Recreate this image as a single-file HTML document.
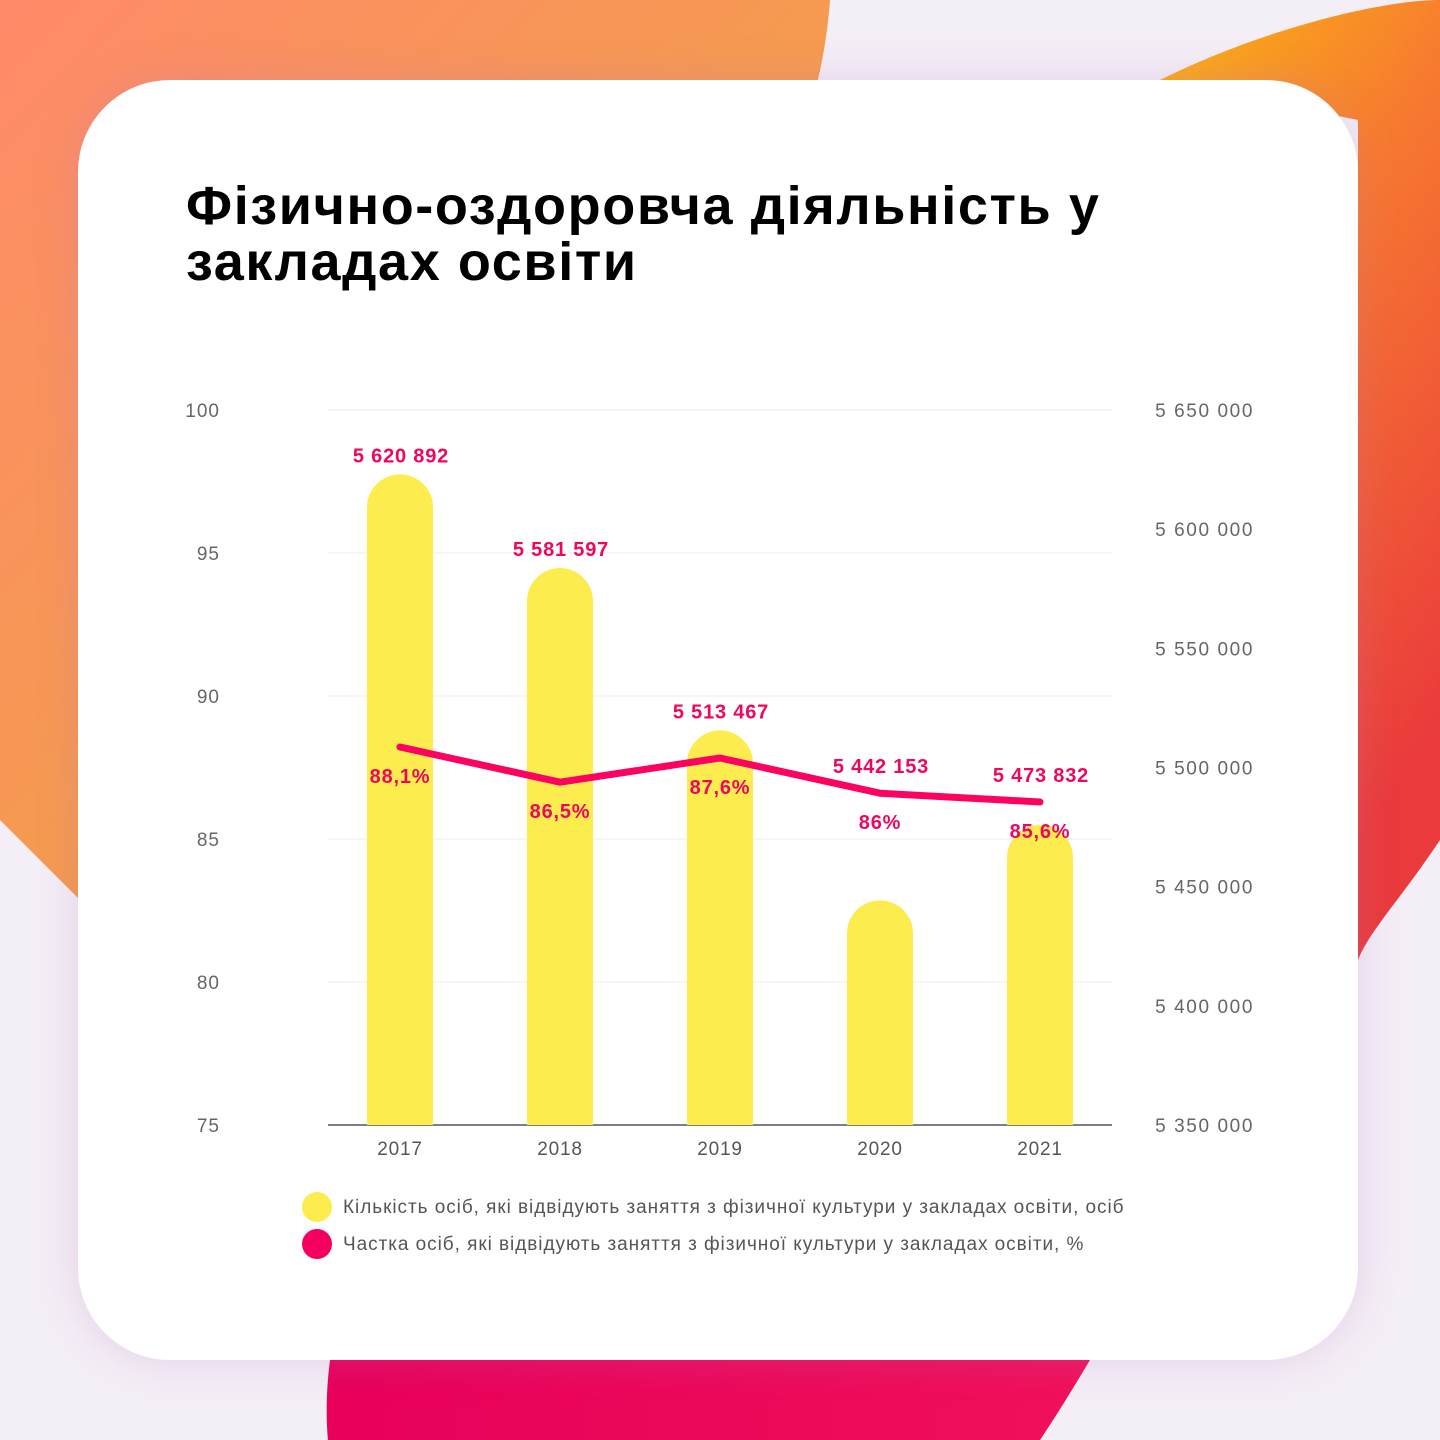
<!DOCTYPE html>
<html><head><meta charset="utf-8">
<style>
html,body{margin:0;padding:0;}
body{width:1440px;height:1440px;position:relative;overflow:hidden;background:#f4eef6;font-family:"Liberation Sans",sans-serif;}
.blob{position:absolute;}
#card{position:absolute;left:78px;top:80px;width:1280px;height:1280px;background:#fff;border-radius:92px;box-shadow:0 0 40px rgba(180,120,200,0.25);}
h1{position:absolute;left:186px;top:178px;margin:0;font-size:54px;line-height:56px;font-weight:bold;color:#000;letter-spacing:1.6px;}
</style></head>
<body>
<svg class="blob" width="1440" height="1440" style="left:0;top:0">
<defs>
<linearGradient id="g1" x1="0" y1="0" x2="1" y2="1"><stop offset="0" stop-color="#ff8a6a"/><stop offset="0.5" stop-color="#f59a50"/><stop offset="1" stop-color="#f0a040"/></linearGradient>
<linearGradient id="g2" x1="0" y1="0" x2="0.4" y2="1"><stop offset="0" stop-color="#fbb514"/><stop offset="0.4" stop-color="#f77a30"/><stop offset="1" stop-color="#ea3a3c"/></linearGradient>
<linearGradient id="g3" x1="0" y1="0" x2="1" y2="0"><stop offset="0" stop-color="#e8005a"/><stop offset="1" stop-color="#f0105a"/></linearGradient>
</defs>
<path d="M0 0 L830 0 C815 200 700 330 520 420 C380 500 200 650 80 900 L0 820 Z" fill="url(#g1)"/>
<path d="M1160 80 C1260 30 1380 0 1440 0 L1440 840 C1400 900 1370 930 1358 960 L1358 120 Z" fill="url(#g2)"/>
<path d="M330 1360 C326 1390 326 1420 328 1440 L1040 1440 C1060 1410 1075 1385 1090 1360 Z" fill="url(#g3)"/>
</svg>
<div id="card"></div>
<h1>Фізично-оздоровча діяльність у<br>закладах освіти</h1>
<svg id="chart" width="1440" height="1440" style="position:absolute;left:0;top:0;font-family:'Liberation Sans',sans-serif"></svg>
<script>
const years=["2017","2018","2019","2020","2021"];
const counts=[5620892,5581597,5513467,5442153,5473832];
const countLabels=["5 620 892","5 581 597","5 513 467","5 442 153","5 473 832"];
const shares=[88.1,86.5,87.6,86,85.6];
const shareLabels=["88,1%","86,5%","87,6%","86%","85,6%"];
const leftTicks=[75,80,85,90,95,100];
const rightTicks=[5350000,5400000,5450000,5500000,5550000,5600000,5650000];
const rightTickLabels=["5 350 000","5 400 000","5 450 000","5 500 000","5 550 000","5 600 000","5 650 000"];
const NS="http://www.w3.org/2000/svg";
const svg=document.getElementById('chart');
const x0=328,x1=1112,yB=1125,yT=410;
const yL=v=>yB-(v-75)/25*(yB-yT);
const yR=v=>yB-(v-5350000)/300000*(yB-yT)-5;
const yS=v=>747+(88.1-v)*22;
const xc=i=>400+i*160;
function mk(t,a,txt){const e=document.createElementNS(NS,t);for(const k in a)e.setAttribute(k,a[k]);if(txt!==undefined)e.textContent=txt;svg.appendChild(e);return e;}
leftTicks.forEach(v=>{
 const g=mk('line',{x1:x0,x2:x1,y1:yL(v),y2:yL(v),stroke:v===75?'#555':'#ececec','stroke-width':v===75?1.5:1});
 
 
 const t=mk('text',{x:220,y:yL(v)+7,'text-anchor':'end','font-size':19,fill:'#666','letter-spacing':1},v);
 
 
});
rightTicks.forEach((v,i)=>{
 const t=mk('text',{x:1254,y:yB-(v-5350000)/300000*(yB-yT)+7,'text-anchor':'end','font-size':19,fill:'#666','letter-spacing':1.6},rightTickLabels[i]);
 
 
});
const w=66,r=33;
counts.forEach((v,i)=>{
 const top=yR(v),l=xc(i)-w/2;
 const p=mk('path',{d:`M${l} ${yB} L${l} ${top+r} A${r} ${r} 0 0 1 ${l+w} ${top+r} L${l+w} ${yB} Z`,fill:'#fdec4e'});
 
 
 const ly=Math.min(top-12,yS(shares[i])-20);
 const t=mk('text',{x:xc(i)+1,y:ly,'text-anchor':'middle','font-size':20,'font-weight':'bold',fill:'#f0065f','letter-spacing':0.8},countLabels[i]);
 
 
 const y=mk('text',{x:xc(i),y:1155,'text-anchor':'middle','font-size':19,fill:'#555','letter-spacing':0.8},years[i]);
 
 
});
const line=mk('polyline',{points:shares.map((v,i)=>xc(i)+','+yS(v)).join(' '),fill:'none',stroke:'#fc0261','stroke-width':7,'stroke-linejoin':'round','stroke-linecap':'round'});


shares.forEach((v,i)=>{
 const t=mk('text',{x:xc(i),y:yS(v)+36,'text-anchor':'middle','font-size':20,'font-weight':'bold',fill:'#f0065f','letter-spacing':0.8},shareLabels[i]);
 
 
});
const legs=[["#fdec4e","Кількість осіб, які відвідують заняття з фізичної культури у закладах освіти, осіб"],["#f5005f","Частка осіб, які відвідують заняття з фізичної культури у закладах освіти, %"]];
legs.forEach((L,i)=>{
 const c=mk('circle',{cx:317,cy:1207+i*37,r:15,fill:L[0]});
 
 
 const t=mk('text',{x:343,y:1213+i*37,'font-size':19,fill:'#555','letter-spacing':0.95},L[1]);
 
 
});
</script>
</body></html>
